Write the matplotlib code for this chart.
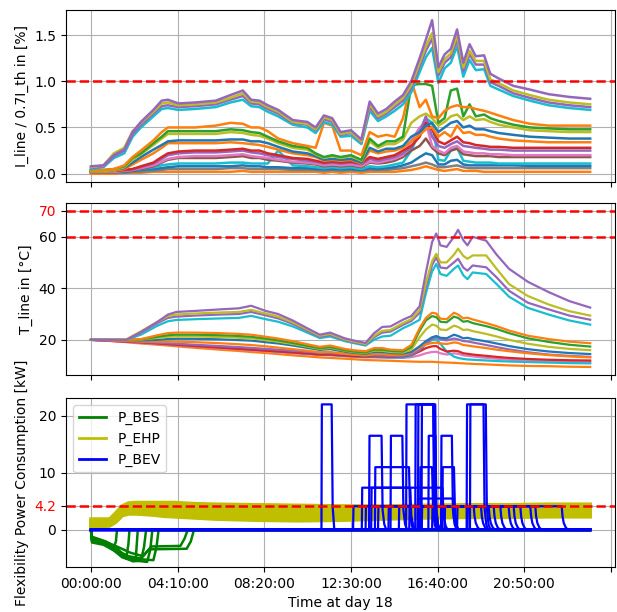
import matplotlib
matplotlib.use('Agg')
import matplotlib.pyplot as plt
from matplotlib.lines import Line2D

# ---------------- data ----------------
# time axis in hours of day 18
t_load = [0, 0.6, 1.1, 1.6, 2.0, 2.4, 3.0, 3.4, 3.7, 4.2,
          5.0, 6.0, 6.7, 7.3, 7.7, 8.1, 8.5, 9.0, 9.7, 10.4,
          10.8, 11.2, 11.6, 12.0, 12.5, 13.0, 13.4, 13.8, 14.2, 14.6,
          15.0, 15.4, 15.8, 16.1, 16.4, 16.7, 17.0, 17.3, 17.6, 17.9,
          18.2, 18.5, 18.9, 19.2, 19.6, 20.3, 21.1, 22.0, 23.0, 24.0]

# line loading (I_line / 0.7 I_th), a few representative lines
load_purple = [0.08, 0.09, 0.20, 0.26, 0.45, 0.56, 0.69, 0.79, 0.80, 0.76,
               0.77, 0.79, 0.85, 0.90, 0.80, 0.79, 0.74, 0.69, 0.58, 0.56,
               0.50, 0.63, 0.60, 0.45, 0.47, 0.37, 0.78, 0.65, 0.70, 0.78,
               0.85, 1.00, 1.25, 1.45, 1.66, 1.15, 1.29, 1.35, 1.56, 1.20,
               1.40, 1.27, 1.28, 1.08, 1.03, 0.95, 0.91, 0.86, 0.83, 0.81]
load_olive = [0.07, 0.09, 0.22, 0.28, 0.46, 0.55, 0.67, 0.76, 0.77, 0.74,
              0.75, 0.77, 0.82, 0.87, 0.78, 0.77, 0.72, 0.67, 0.56, 0.54,
              0.48, 0.61, 0.58, 0.43, 0.45, 0.35, 0.75, 0.62, 0.67, 0.75,
              0.82, 0.96, 1.20, 1.38, 1.52, 1.10, 1.24, 1.30, 1.50, 1.15,
              1.33, 1.22, 1.22, 1.02, 0.98, 0.90, 0.85, 0.80, 0.77, 0.75]
load_purple2 = [0.06, 0.08, 0.19, 0.25, 0.43, 0.53, 0.65, 0.73, 0.74, 0.72,
                0.73, 0.75, 0.80, 0.84, 0.76, 0.75, 0.70, 0.65, 0.55, 0.53,
                0.47, 0.59, 0.56, 0.42, 0.44, 0.34, 0.72, 0.60, 0.65, 0.72,
                0.79, 0.93, 1.16, 1.33, 1.46, 1.06, 1.20, 1.26, 1.45, 1.11,
                1.29, 1.18, 1.18, 0.99, 0.95, 0.87, 0.82, 0.77, 0.74, 0.72]
load_cyan = [0.05, 0.07, 0.17, 0.22, 0.40, 0.50, 0.62, 0.70, 0.71, 0.69,
             0.70, 0.72, 0.77, 0.80, 0.73, 0.72, 0.67, 0.62, 0.53, 0.50,
             0.44, 0.56, 0.53, 0.40, 0.41, 0.32, 0.68, 0.57, 0.62, 0.68,
             0.75, 0.88, 1.10, 1.26, 1.36, 0.98, 1.14, 1.20, 1.38, 1.05,
             1.23, 1.12, 1.13, 0.95, 0.91, 0.84, 0.79, 0.74, 0.71, 0.69]
load_orange = [0.04, 0.04, 0.05, 0.09, 0.18, 0.25, 0.36, 0.45, 0.50, 0.50,
               0.50, 0.52, 0.55, 0.54, 0.50, 0.50, 0.46, 0.38, 0.33, 0.30,
               0.28, 0.55, 0.52, 0.25, 0.25, 0.20, 0.45, 0.40, 0.42, 0.40,
               0.60, 1.00, 0.72, 0.80, 0.62, 0.60, 0.68, 0.72, 0.74, 0.72,
               0.72, 0.70, 0.68, 0.66, 0.63, 0.58, 0.54, 0.52, 0.52, 0.52]
load_green = [0.04, 0.04, 0.05, 0.08, 0.17, 0.22, 0.33, 0.40, 0.46, 0.46,
              0.46, 0.46, 0.48, 0.47, 0.45, 0.44, 0.40, 0.35, 0.30, 0.28,
              0.22, 0.18, 0.20, 0.18, 0.20, 0.15, 0.38, 0.30, 0.35, 0.35,
              0.40, 0.96, 0.97, 0.97, 0.95, 0.55, 0.60, 0.90, 0.92, 0.62,
              0.75, 0.62, 0.64, 0.60, 0.57, 0.53, 0.50, 0.49, 0.48, 0.48]
load_olive_mid = [0.03, 0.03, 0.04, 0.07, 0.15, 0.21, 0.31, 0.38, 0.43, 0.43,
                  0.43, 0.43, 0.45, 0.44, 0.42, 0.41, 0.38, 0.33, 0.28, 0.26,
                  0.21, 0.17, 0.19, 0.17, 0.19, 0.14, 0.35, 0.28, 0.32, 0.32,
                  0.37, 0.55, 0.62, 0.65, 0.60, 0.52, 0.56, 0.62, 0.64, 0.58,
                  0.62, 0.58, 0.59, 0.56, 0.53, 0.50, 0.47, 0.46, 0.45, 0.45]
load_blue_mid = [0.03, 0.03, 0.04, 0.06, 0.12, 0.18, 0.26, 0.31, 0.35, 0.36,
                 0.36, 0.36, 0.37, 0.37, 0.35, 0.35, 0.33, 0.29, 0.24, 0.22,
                 0.19, 0.15, 0.16, 0.15, 0.16, 0.12, 0.28, 0.24, 0.27, 0.27,
                 0.30, 0.40, 0.45, 0.52, 0.55, 0.45, 0.50, 0.55, 0.57, 0.50,
                 0.52, 0.48, 0.48, 0.46, 0.44, 0.42, 0.40, 0.39, 0.38, 0.38]
load_orange_low = [0.02, 0.02, 0.03, 0.05, 0.10, 0.15, 0.22, 0.28, 0.33, 0.33,
                   0.33, 0.33, 0.34, 0.33, 0.32, 0.31, 0.29, 0.26, 0.22, 0.20,
                   0.18, 0.14, 0.15, 0.14, 0.15, 0.11, 0.25, 0.22, 0.24, 0.25,
                   0.28, 0.35, 0.42, 0.48, 0.50, 0.40, 0.45, 0.40, 0.52, 0.44,
                   0.45, 0.42, 0.42, 0.40, 0.38, 0.36, 0.35, 0.34, 0.34, 0.34]
load_red = [0.03, 0.03, 0.03, 0.04, 0.05, 0.08, 0.12, 0.18, 0.22, 0.24,
            0.25, 0.25, 0.26, 0.27, 0.25, 0.25, 0.22, 0.20, 0.17, 0.16,
            0.14, 0.12, 0.13, 0.12, 0.13, 0.11, 0.18, 0.16, 0.18, 0.20,
            0.25, 0.30, 0.40, 0.55, 0.48, 0.35, 0.32, 0.36, 0.40, 0.34,
            0.33, 0.31, 0.30, 0.29, 0.29, 0.28, 0.28, 0.28, 0.28, 0.28]
load_purple_low = [0.02, 0.02, 0.03, 0.04, 0.05, 0.07, 0.11, 0.16, 0.20, 0.22,
                   0.23, 0.23, 0.24, 0.25, 0.23, 0.22, 0.20, 0.18, 0.16, 0.14,
                   0.13, 0.11, 0.12, 0.11, 0.12, 0.10, 0.16, 0.14, 0.16, 0.18,
                   0.22, 0.28, 0.45, 0.62, 0.40, 0.30, 0.28, 0.32, 0.35, 0.30,
                   0.29, 0.28, 0.27, 0.26, 0.26, 0.25, 0.25, 0.25, 0.25, 0.25]
load_pink = [0.02, 0.02, 0.02, 0.03, 0.04, 0.06, 0.09, 0.13, 0.16, 0.18,
             0.19, 0.19, 0.20, 0.21, 0.19, 0.18, 0.17, 0.15, 0.13, 0.12,
             0.11, 0.09, 0.10, 0.09, 0.10, 0.08, 0.13, 0.12, 0.14, 0.16,
             0.20, 0.35, 0.50, 0.55, 0.30, 0.25, 0.22, 0.28, 0.30, 0.24,
             0.23, 0.22, 0.22, 0.21, 0.21, 0.20, 0.20, 0.20, 0.20, 0.20]
load_brown = [0.02, 0.02, 0.02, 0.03, 0.04, 0.05, 0.08, 0.12, 0.15, 0.17,
              0.17, 0.17, 0.18, 0.19, 0.17, 0.17, 0.15, 0.14, 0.12, 0.11,
              0.10, 0.08, 0.09, 0.08, 0.09, 0.07, 0.12, 0.11, 0.12, 0.14,
              0.18, 0.25, 0.30, 0.38, 0.28, 0.22, 0.20, 0.25, 0.27, 0.21,
              0.20, 0.19, 0.19, 0.19, 0.18, 0.18, 0.18, 0.18, 0.18, 0.18]
load_cyan_low = [0.02, 0.02, 0.02, 0.03, 0.04, 0.05, 0.07, 0.09, 0.10, 0.11,
                 0.11, 0.11, 0.12, 0.12, 0.11, 0.11, 0.11, 0.25, 0.09, 0.08,
                 0.07, 0.06, 0.07, 0.06, 0.07, 0.05, 0.08, 0.07, 0.08, 0.10,
                 0.12, 0.25, 0.45, 0.60, 0.55, 0.15, 0.14, 0.25, 0.28, 0.14,
                 0.13, 0.12, 0.12, 0.12, 0.11, 0.11, 0.11, 0.11, 0.11, 0.11]
load_blue_low = [0.02, 0.02, 0.02, 0.02, 0.03, 0.04, 0.05, 0.06, 0.07, 0.08,
                 0.08, 0.08, 0.08, 0.09, 0.08, 0.08, 0.07, 0.07, 0.06, 0.06,
                 0.05, 0.05, 0.05, 0.05, 0.05, 0.04, 0.06, 0.05, 0.06, 0.07,
                 0.09, 0.12, 0.18, 0.22, 0.20, 0.10, 0.10, 0.14, 0.15, 0.10,
                 0.09, 0.09, 0.09, 0.09, 0.09, 0.09, 0.085, 0.085, 0.085, 0.085]
load_gray = [0.01, 0.01, 0.01, 0.01, 0.02, 0.02, 0.03, 0.04, 0.05, 0.05,
             0.05, 0.05, 0.06, 0.06, 0.05, 0.05, 0.05, 0.05, 0.04, 0.04,
             0.04, 0.03, 0.04, 0.03, 0.04, 0.03, 0.04, 0.04, 0.04, 0.05,
             0.06, 0.08, 0.10, 0.12, 0.10, 0.07, 0.07, 0.08, 0.09, 0.07,
             0.06, 0.06, 0.06, 0.06, 0.06, 0.06, 0.06, 0.06, 0.06, 0.06]
load_orange_base = [0.0, 0.0, 0.0, 0.01, 0.01, 0.01, 0.02, 0.02, 0.02, 0.02,
                    0.02, 0.02, 0.02, 0.03, 0.02, 0.02, 0.02, 0.02, 0.02, 0.02,
                    0.02, 0.01, 0.02, 0.01, 0.02, 0.01, 0.02, 0.02, 0.02, 0.02,
                    0.03, 0.04, 0.06, 0.08, 0.06, 0.04, 0.03, 0.04, 0.05, 0.03,
                    0.03, 0.03, 0.02, 0.02, 0.02, 0.02, 0.02, 0.02, 0.02, 0.02]

# line temperature
t_temp = [0, 1.0, 1.7, 2.4, 3.2, 3.7, 4.1, 5.0, 6.2, 7.1,
          7.7, 8.4, 9.0, 9.7, 10.4, 11.0, 11.5, 12.2, 12.6, 13.2,
          13.6, 14.0, 14.4, 15.0, 15.4, 15.8, 16.1, 16.4, 16.6, 16.8,
          17.1, 17.45, 17.65, 17.9, 18.1, 18.35, 19.0, 19.5, 20.1, 21.0,
          22.0, 23.0, 24.0]
temp_purple = [20, 20, 20, 23.0, 27.0, 29.8, 30.8, 31.2, 31.8, 32.2,
               33.2, 31.2, 30.0, 27.5, 24.5, 22.0, 22.8, 20.6, 19.8, 18.8,
               22.5, 25.0, 25.2, 27.8, 29.2, 33.0, 46.0, 57.9, 61.2, 56.6,
               56.0, 59.9, 62.6, 58.6, 56.6, 59.9, 58.4, 53.0, 47.5, 42.5,
               38.5, 35.0, 32.5]
temp_olive = [20, 20, 20.2, 23.3, 27.0, 29.2, 29.8, 30.2, 30.6, 30.8,
              31.6, 30.2, 29.0, 26.8, 24.0, 21.6, 22.3, 20.2, 19.4, 18.4,
              21.5, 23.5, 23.8, 26.5, 28.0, 31.5, 42.0, 50.5, 53.3, 50.0,
              50.0, 53.0, 55.3, 52.5, 51.4, 52.7, 52.7, 47.5, 41.6, 37.0,
              33.7, 31.1, 29.4]
temp_purple2 = [20, 20, 20, 22.8, 26.5, 28.5, 29.0, 29.4, 29.8, 30.0,
                30.8, 29.5, 28.3, 26.2, 23.5, 21.2, 21.9, 19.9, 19.1, 18.2,
                21.0, 22.8, 23.2, 25.8, 27.3, 30.5, 40.5, 49.0, 52.0, 48.0,
                47.7, 50.0, 51.4, 48.0, 46.8, 48.8, 48.1, 44.2, 39.0, 34.4,
                31.8, 29.4, 27.8]
temp_cyan = [20, 20, 20, 22.0, 25.5, 27.2, 27.7, 28.0, 28.3, 28.5,
             29.3, 28.0, 27.0, 25.2, 22.8, 20.7, 21.3, 19.5, 18.8, 17.8,
             20.0, 21.3, 21.6, 24.5, 26.0, 27.8, 38.0, 46.5, 49.4, 45.5,
             44.8, 47.5, 48.8, 45.0, 43.5, 46.1, 45.5, 41.6, 36.7, 32.4,
             29.8, 27.5, 25.9]
temp_orange = [20, 20, 20, 20.3, 21.8, 22.6, 22.8, 22.8, 22.6, 22.3,
               22.0, 21.2, 20.5, 19.5, 18.3, 17.3, 17.8, 16.5, 16.0, 15.6,
               16.8, 16.8, 16.2, 16.0, 18.0, 24.5, 28.5, 30.5, 30.2, 28.2,
               28.0, 30.5, 29.8, 28.3, 28.6, 27.9, 26.5, 25.3, 23.6, 21.6,
               20.3, 19.3, 18.7]
temp_green = [20, 20, 20, 20.2, 21.2, 21.8, 22.0, 22.0, 21.8, 21.5,
              21.2, 20.5, 19.8, 18.8, 17.7, 16.8, 17.2, 16.0, 15.5, 15.1,
              16.2, 16.2, 15.7, 15.5, 17.2, 23.5, 27.5, 29.2, 28.8, 27.0,
              26.8, 29.0, 28.5, 27.0, 27.3, 26.5, 25.3, 24.2, 22.6, 20.6,
              19.2, 18.1, 17.4]
temp_olive_mid = [20, 20, 20, 20.1, 20.8, 21.2, 21.3, 21.3, 21.1, 20.8,
                  20.6, 19.9, 19.3, 18.4, 17.4, 16.5, 16.9, 15.8, 15.3, 14.9,
                  15.8, 15.8, 15.3, 15.1, 16.2, 21.0, 24.0, 25.9, 25.5, 24.0,
                  23.8, 25.5, 25.0, 23.8, 24.0, 23.4, 22.3, 21.3, 20.0, 18.5,
                  17.3, 16.5, 16.0]
temp_blue = [20, 20, 19.9, 19.8, 20.0, 20.3, 20.4, 20.4, 20.2, 19.9,
             19.7, 19.1, 18.6, 17.8, 16.9, 16.1, 16.4, 15.4, 15.0, 14.6,
             15.3, 15.3, 14.9, 14.7, 15.3, 17.5, 19.5, 21.0, 21.5, 20.8,
             20.6, 22.0, 21.5, 20.6, 20.8, 20.3, 19.4, 18.6, 17.6, 16.4,
             15.5, 14.9, 14.5]
temp_orange_mid = [20, 19.8, 19.6, 19.4, 19.3, 19.3, 19.3, 19.1, 18.7, 18.3,
                   18.0, 17.5, 17.0, 16.4, 15.8, 15.2, 15.3, 14.6, 14.3, 14.0,
                   14.5, 14.5, 14.2, 14.2, 15.0, 17.0, 18.2, 18.8, 18.9, 18.6,
                   18.4, 19.0, 18.8, 18.0, 17.8, 17.5, 16.8, 16.2, 15.6, 14.8,
                   14.1, 13.6, 13.2]
temp_purple_low = [20, 19.7, 19.5, 19.2, 18.9, 18.7, 18.5, 18.1, 17.6, 17.2,
                   16.9, 16.5, 16.2, 15.8, 15.4, 15.0, 14.9, 14.5, 14.3, 14.0,
                   14.0, 13.9, 13.8, 13.8, 14.3, 16.0, 18.5, 20.5, 21.0, 20.2,
                   19.8, 20.5, 20.2, 19.5, 19.4, 19.0, 18.0, 17.2, 16.3, 15.2,
                   14.3, 13.8, 13.4]
temp_red = [20, 19.6, 19.3, 19.0, 18.6, 18.3, 18.1, 17.6, 17.0, 16.5,
            16.2, 15.8, 15.5, 15.1, 14.7, 14.3, 14.3, 13.9, 13.7, 13.5,
            13.6, 13.6, 13.5, 13.6, 14.2, 15.5, 16.8, 17.5, 17.6, 16.5,
            15.5, 15.8, 15.6, 14.8, 14.6, 14.3, 13.8, 13.4, 13.0, 12.6,
            12.3, 12.1, 12.0]
temp_cyan_low = [20, 19.7, 19.4, 19.1, 18.7, 18.4, 18.2, 17.7, 17.1, 16.6,
                 16.3, 15.9, 15.5, 15.1, 14.7, 14.3, 14.2, 13.8, 13.6, 13.4,
                 13.4, 13.3, 13.2, 13.2, 13.8, 15.8, 18.5, 20.0, 20.2, 18.5,
                 15.5, 13.5, 13.0, 12.6, 12.4, 12.3, 12.0, 11.8, 11.6, 11.4,
                 11.2, 11.0, 10.9]
temp_pink = [20, 19.6, 19.2, 18.8, 18.4, 18.1, 17.9, 17.4, 16.8, 16.3,
             16.0, 15.6, 15.2, 14.8, 14.4, 14.1, 14.0, 13.6, 13.4, 13.2,
             13.2, 13.1, 13.0, 13.0, 13.3, 14.0, 14.8, 15.3, 15.4, 14.8,
             14.3, 14.8, 14.6, 14.0, 13.8, 13.6, 13.0, 12.7, 12.3, 12.0,
             11.8, 11.6, 11.5]
temp_orange_base = [20, 19.5, 19.1, 18.6, 18.1, 17.8, 17.5, 16.9, 16.2, 15.7,
                    15.3, 14.9, 14.5, 14.0, 13.6, 13.2, 13.0, 12.7, 12.5, 12.2,
                    12.1, 12.0, 11.9, 11.7, 11.6, 11.5, 11.5, 11.5, 11.4, 11.3,
                    11.2, 11.1, 11.0, 10.9, 10.8, 10.7, 10.5, 10.3, 10.1, 9.9,
                    9.8, 9.6, 9.5]

# battery storage (P_BES), one breakpoint list per unit
bes_t = [[0, 0.05, 0.4, 0.8, 1.1, 1.2, 1.25, 24],
         [0, 0.05, 0.5, 1.0, 1.4, 1.7, 1.8, 1.85, 24],
         [0, 0.05, 0.6, 1.1, 1.5, 1.9, 2.15, 2.25, 24],
         [0, 0.05, 0.7, 1.2, 1.6, 2.0, 2.4, 2.55, 2.65, 24],
         [0, 0.05, 0.6, 1.2, 1.7, 2.2, 2.7, 2.85, 2.95, 24],
         [0, 0.05, 0.5, 1.1, 1.6, 2.1, 2.6, 3.0, 3.15, 3.25, 24],
         [0, 0.05, 0.6, 1.2, 1.8, 2.4, 2.8, 4.6, 4.8, 4.95, 24],
         [0, 0.05, 0.7, 1.3, 1.9, 2.5, 2.9, 4.3, 4.5, 4.65, 24]]
bes_p = [[0, -1.5, -1.8, -2.5, -3.0, -2.0, 0, 0],
         [0, -1.8, -2.2, -3.2, -4.3, -4.8, -2.5, 0, 0],
         [0, -2.2, -2.6, -3.6, -4.8, -5.3, -5.2, 0, 0],
         [0, -1.2, -2.0, -3.0, -4.5, -5.5, -5.4, -3.0, 0, 0],
         [0, -2.0, -2.4, -3.8, -5.0, -5.4, -5.6, -3.5, 0, 0],
         [0, -1.6, -2.0, -3.3, -4.6, -5.0, -5.2, -5.3, -3.0, 0, 0],
         [0, -1.4, -2.3, -3.5, -4.6, -5.0, -3.4, -3.3, -2.0, 0, 0],
         [0, -1.9, -2.1, -3.0, -4.0, -4.6, -2.9, -2.8, -1.5, 0, 0]]

# heat pumps (P_EHP)
t_ehp = [0, 0.5, 0.9, 1.2, 1.5, 1.8, 2.2, 3.0, 3.5, 4.0,
         5, 6, 8, 10, 12, 14, 16, 18, 20, 22, 24]
ehp_p = [[1.9, 1.9, 1.9, 3.0, 4.2, 4.7, 4.8, 4.8, 4.8, 4.8, 4.6, 4.5, 4.4, 4.3, 4.2, 4.2, 4.3, 4.4, 4.4, 4.5, 4.5],
         [1.6, 1.6, 1.7, 2.7, 3.9, 4.5, 4.6, 4.6, 4.6, 4.5, 4.3, 4.2, 4.0, 3.9, 3.8, 3.9, 4.0, 4.1, 4.2, 4.2, 4.2],
         [1.3, 1.3, 1.4, 2.4, 3.6, 4.2, 4.3, 4.3, 4.2, 4.0, 3.9, 3.7, 3.5, 3.4, 3.4, 3.5, 3.7, 3.8, 3.8, 3.9, 3.9],
         [1.1, 1.1, 1.2, 2.1, 3.3, 3.9, 4.0, 3.9, 3.7, 3.5, 3.4, 3.2, 3.0, 2.9, 2.9, 3.1, 3.3, 3.4, 3.5, 3.5, 3.5],
         [0.9, 0.9, 1.0, 1.8, 3.0, 3.6, 3.6, 3.4, 3.2, 3.1, 3.0, 2.8, 2.6, 2.5, 2.6, 2.8, 3.0, 3.1, 3.1, 3.2, 3.2],
         [0.8, 0.8, 0.9, 1.6, 2.8, 3.3, 3.3, 3.1, 2.9, 2.8, 2.6, 2.4, 2.2, 2.1, 2.2, 2.5, 2.7, 2.8, 2.8, 2.9, 2.9],
         [0.7, 0.7, 0.8, 1.5, 2.6, 3.0, 3.0, 2.8, 2.6, 2.5, 2.3, 2.1, 1.9, 1.8, 1.9, 2.2, 2.4, 2.5, 2.5, 2.5, 2.6],
         [0.6, 0.6, 0.7, 1.4, 2.5, 2.8, 2.8, 2.6, 2.4, 2.3, 2.1, 1.9, 1.7, 1.6, 1.7, 1.9, 2.1, 2.2, 2.2, 2.3, 2.3]]

# electric vehicles (P_BEV)
bev_t = [[0, 11.08, 11.1, 11.57, 11.62, 11.7, 24],
         [0, 13.37, 13.39, 13.97, 14.02, 14.1, 14.2, 24],
         [0, 14.4, 14.42, 14.97, 15.02, 15.1, 15.2, 24],
         [0, 13.65, 13.67, 15.29, 15.34, 15.42, 15.5, 24],
         [0, 13.02, 13.04, 15.35, 15.4, 15.5, 15.6, 24],
         [0, 13.47, 13.49, 16.9, 16.95, 17.05, 17.15, 24],
         [0, 15.15, 15.17, 16.47, 16.52, 16.6, 16.7, 24],
         [0, 15.59, 15.61, 16.55, 16.6, 16.68, 16.78, 24],
         [0, 15.72, 15.74, 16.5, 16.55, 16.63, 16.73, 24],
         [0, 15.89, 15.91, 16.45, 16.5, 16.58, 16.68, 24],
         [0, 16.22, 16.24, 16.56, 16.6, 16.68, 16.78, 24],
         [0, 16.83, 16.85, 17.35, 17.4, 17.48, 17.58, 24],
         [0, 16.89, 16.91, 17.45, 17.5, 17.58, 17.68, 24],
         [0, 15.82, 15.84, 16.4, 16.45, 16.53, 16.63, 24],
         [0, 15.7, 15.72, 17.4, 17.45, 17.55, 17.65, 24],
         [0, 18.06, 18.08, 18.87, 18.92, 19.0, 19.1, 24],
         [0, 18.22, 18.24, 18.98, 19.03, 19.11, 19.21, 24],
         [0, 12.6, 12.62, 18.4, 18.44, 18.5, 18.6, 18.72, 24],
         [0, 13.2, 13.22, 18.75, 18.79, 18.85, 18.95, 19.07, 24],
         [0, 13.8, 13.82, 19.12, 19.16, 19.22, 19.32, 19.44, 24],
         [0, 14.3, 14.32, 19.36, 19.4, 19.46, 19.56, 19.68, 24],
         [0, 14.8, 14.82, 19.68, 19.72, 19.78, 19.88, 20.0, 24],
         [0, 15.3, 15.32, 20.08, 20.12, 20.18, 20.28, 20.4, 24],
         [0, 15.9, 15.92, 20.32, 20.36, 20.42, 20.52, 20.64, 24],
         [0, 16.4, 16.42, 20.64, 20.68, 20.74, 20.84, 20.96, 24],
         [0, 17.0, 17.02, 21.12, 21.16, 21.22, 21.32, 21.44, 24],
         [0, 17.6, 17.62, 21.36, 21.4, 21.46, 21.56, 21.68, 24],
         [0, 18.1, 18.12, 22.63, 22.67, 22.73, 22.83, 22.95, 24]]
bev_p = [[0, 0, 22, 22, 4, 0, 0],
         [0, 0, 16.5, 16.5, 3.5, 1, 0, 0],
         [0, 0, 16.5, 16.5, 3.5, 1, 0, 0],
         [0, 0, 11, 11, 3, 0.8, 0, 0],
         [0, 0, 7.4, 7.4, 2.5, 0.7, 0, 0],
         [0, 0, 7.4, 7.4, 2.5, 0.7, 0, 0],
         [0, 0, 22, 22, 4, 1, 0, 0],
         [0, 0, 22, 22, 4, 1, 0, 0],
         [0, 0, 22, 22, 4, 1, 0, 0],
         [0, 0, 22, 22, 4, 1, 0, 0],
         [0, 0, 16.5, 16.5, 3.5, 1, 0, 0],
         [0, 0, 16.5, 16.5, 3.5, 1, 0, 0],
         [0, 0, 11, 11, 3, 0.8, 0, 0],
         [0, 0, 11, 11, 3, 0.8, 0, 0],
         [0, 0, 5.5, 5.5, 2, 0.6, 0, 0],
         [0, 0, 22, 22, 4, 1, 0, 0],
         [0, 0, 22, 22, 4, 1, 0, 0]] + \
        [[0, 0, 4.15, 4.15, 2.4, 1.2, 0.4, 0, 0]] * 11

limit_load = 1.0
limit_temp = [60, 70]
limit_power = 4.2
tick_hours = [0, 25 / 6, 50 / 6, 75 / 6, 100 / 6, 125 / 6, 25]
tick_labels = ['00:00:00', '04:10:00', '08:20:00', '12:30:00', '16:40:00', '20:50:00', '']

# ---------------- plotting ----------------
fig = plt.figure(figsize=(6.17, 6.12), dpi=100)
ax1 = fig.add_axes([0.107, 0.7026, 0.890, 0.281])
ax2 = fig.add_axes([0.107, 0.3873, 0.890, 0.281], sharex=ax1)
ax3 = fig.add_axes([0.107, 0.0735, 0.890, 0.276], sharex=ax1)

load_lines = [(load_orange_base, '#ff7f0e'), (load_gray, '#7f7f7f'),
              (load_blue_low, '#1f77b4'), (load_cyan_low, '#17becf'),
              (load_brown, '#8c564b'), (load_pink, '#e377c2'),
              (load_purple_low, '#9467bd'), (load_red, '#d62728'),
              (load_orange_low, '#ff7f0e'), (load_blue_mid, '#1f77b4'),
              (load_olive_mid, '#bcbd22'), (load_green, '#2ca02c'),
              (load_orange, '#ff7f0e'), (load_cyan, '#17becf'),
              (load_purple2, '#9467bd'), (load_olive, '#bcbd22'),
              (load_purple, '#9467bd')]
for vals, c in load_lines:
    ax1.plot(t_load, vals, color=c, lw=1.8)
ax1.axhline(limit_load, color='r', ls='--', lw=1.8)
ax1.set_ylim(-0.09, 1.77)
ax1.set_yticks([0.0, 0.5, 1.0, 1.5])
ax1.set_ylabel('I_line / 0.7I_th in [%]')

temp_lines = [(temp_orange_base, '#ff7f0e'), (temp_pink, '#e377c2'),
              (temp_cyan_low, '#17becf'), (temp_red, '#d62728'),
              (temp_purple_low, '#9467bd'), (temp_orange_mid, '#ff7f0e'),
              (temp_blue, '#1f77b4'), (temp_olive_mid, '#bcbd22'),
              (temp_green, '#2ca02c'), (temp_orange, '#ff7f0e'),
              (temp_cyan, '#17becf'), (temp_purple2, '#9467bd'),
              (temp_olive, '#bcbd22'), (temp_purple, '#9467bd')]
for vals, c in temp_lines:
    ax2.plot(t_temp, vals, color=c, lw=1.6)
for lim in limit_temp:
    ax2.axhline(lim, color='r', ls='--', lw=1.8)
ax2.set_ylim(6.4, 73)
ax2.set_yticks([20, 40, 60, 70])
ax2.get_yticklabels()[3].set_color('red')
ax2.set_ylabel('T_line in [°C]')

for tt, pp in zip(bes_t, bes_p):
    ax3.plot(tt, pp, color='g', lw=1.8)
for pp in ehp_p:
    ax3.plot(t_ehp, pp, color='y', lw=2.6)
for tt, pp in zip(bev_t, bev_p):
    ax3.plot(tt, pp, color='b', lw=1.6)
ax3.axhline(limit_power, color='r', ls='--', lw=1.8)
ax3.set_ylim(-6.5, 23.1)
ax3.set_yticks([0, 4.2, 10, 20])
ax3.set_yticklabels(['0', '4.2', '10', '20'])
ax3.get_yticklabels()[1].set_color('red')
ax3.set_ylabel('Flexibility Power Consumption [kW]')
ax3.set_xlabel('Time at day 18')
handles = [Line2D([], [], color='g', lw=2), Line2D([], [], color='y', lw=2),
           Line2D([], [], color='b', lw=2)]
ax3.legend(handles, ['P_BES', 'P_EHP', 'P_BEV'], loc='upper left')

ax1.set_xlim(-1.2, 25.2)
ax3.set_xticks(tick_hours)
ax3.set_xticklabels(tick_labels)
for ax in (ax1, ax2):
    plt.setp(ax.get_xticklabels(), visible=False)
for ax in (ax1, ax2, ax3):
    ax.grid(True)
fig.align_ylabels([ax1, ax2, ax3])

fig.savefig('out.png', dpi=100)
